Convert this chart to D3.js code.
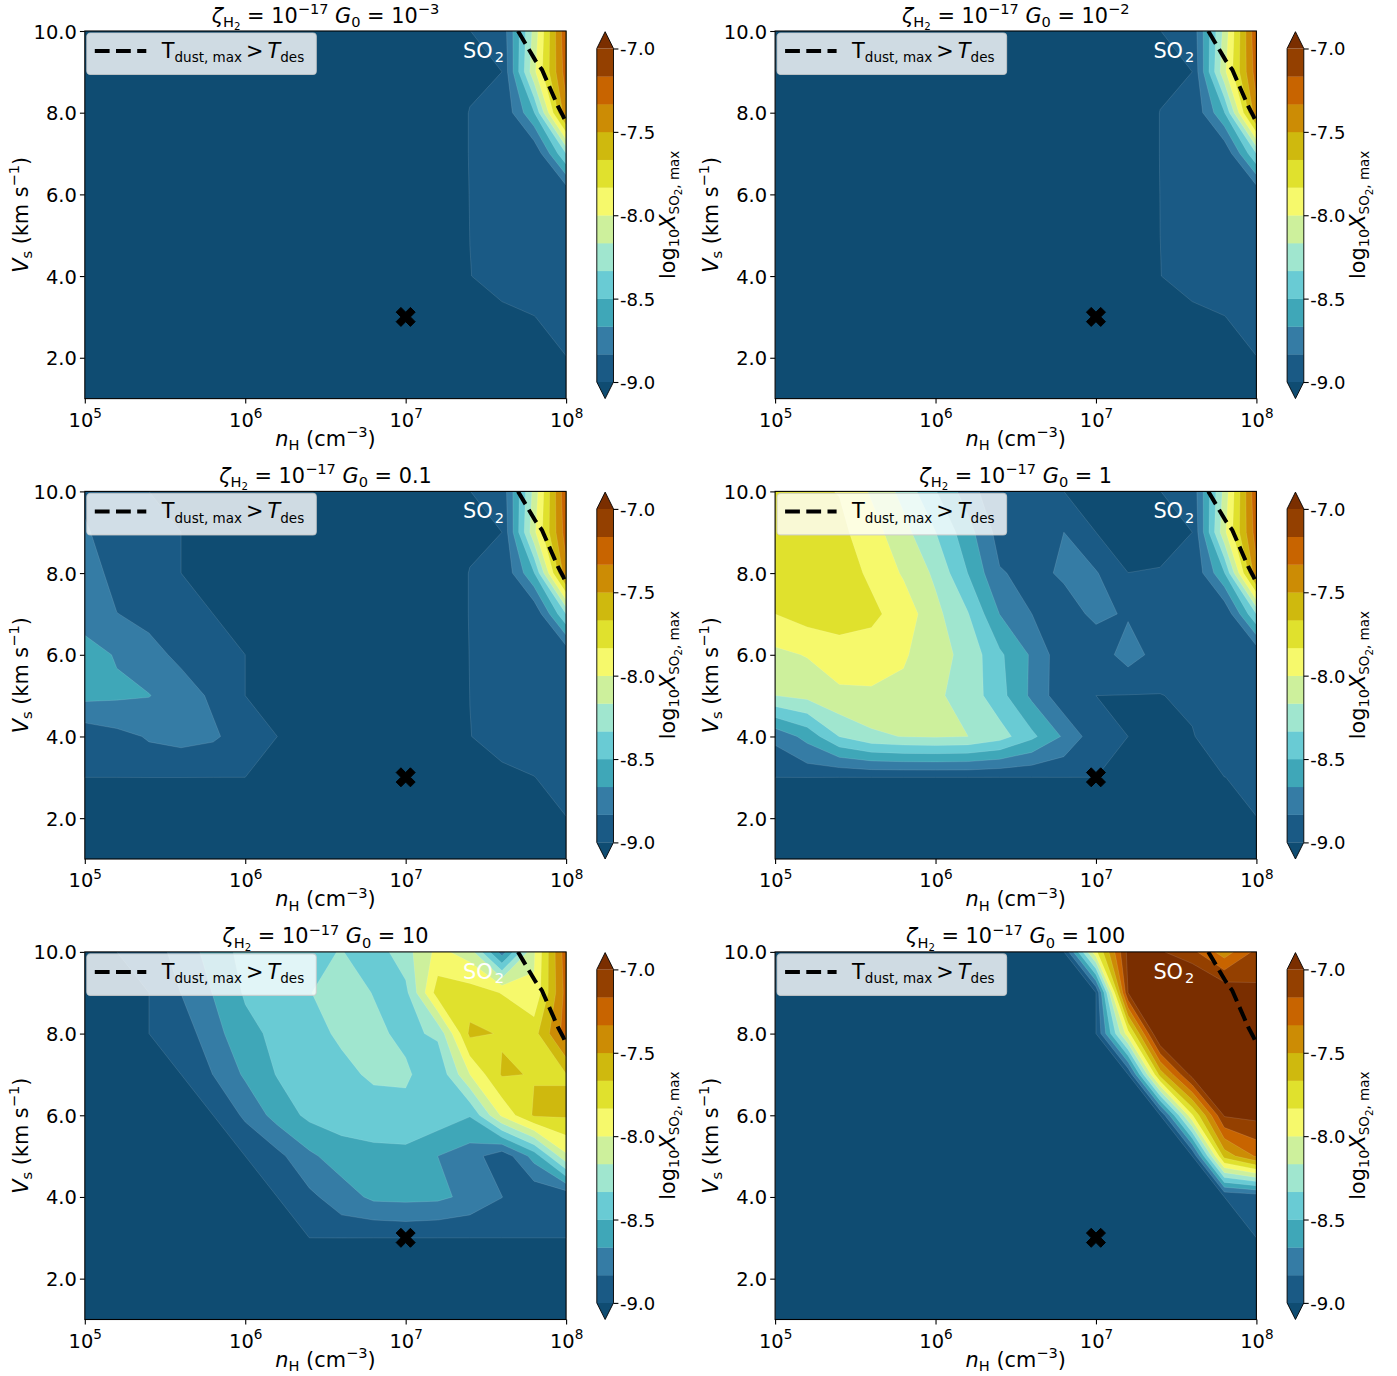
<!DOCTYPE html>
<html><head><meta charset="utf-8">
<script src="https://cdn.jsdelivr.net/npm/d3@7"></script>
<style>html,body{margin:0;padding:0;background:#fff}svg{display:block}text{font-family:"DejaVu Sans",sans-serif;white-space:pre}</style>
</head><body><svg id="c" width="1397" height="1376"></svg>
<script>
const U=-9.2, Z=-30;
const logNGrid=[5,5.2,5.4,5.6,5.8,6,6.2,6.4,6.6,6.8,7,7.2,7.4,7.6,7.8,8];
const vGrid=[10,9,8,7,6,5,4,3,2,1];
const levels=[-9,-8.8333,-8.6667,-8.5,-8.3333,-8.1667,-8,-7.8333,-7.6667,-7.5,-7.3333,-7.1667,-7];
const underColor="#0f4c72";
const bandColors=["#1a5a85","#357ca5","#3fa7b8","#69cbd4","#a0e6cf","#cdf09c","#f6f96b","#e0e12d","#cfb90e","#cc8c05","#c86400","#944000","#7a2e00"];
const xTicks=[1e5,1e6,1e7,1e8], xTickExp=["5","6","7","8"];
const yTicks=[2,4,6,8,10];
const cbTicks=[-9,-8.5,-8,-7.5,-7];
const markerN=1e7, markerV=3;
const dustN=[7.70,7.81,7.85,7.90,7.95,7.98,8.0].map(d=>Math.pow(10,d));
const dustV=[10,9.27,9.05,8.6,8.15,7.93,7.76];
const titleG0=[["10","−3"],["10","−2"],["0.1",null],["1",null],["10",null],["100",null]];

const grid1=[
[U,U,U,U,U,U,U,U,U,U,U,U,-9.001,-8.955,-8.11,-7.2],
[U,U,U,U,U,U,U,U,U,U,U,U,-9.06,-9.0,-8.04,-7.25],
[U,U,U,U,U,U,U,U,U,U,U,U,-8.99,-8.99,-8.51,-7.38],
[U,U,U,U,U,U,U,U,U,U,U,U,-8.99,-8.98,-8.98,-8.33],
[U,U,U,U,U,U,U,U,U,U,U,U,-8.995,-8.98,-8.98,-8.98],
[U,U,U,U,U,U,U,U,U,U,U,U,-8.999,-8.98,-8.98,-8.98],
[U,U,U,U,U,U,U,U,U,U,U,U,-9.003,-8.95,-8.97,-8.98],
[U,U,U,U,U,U,U,U,U,U,U,U,-9.1,-9.03,-9.001,-8.98],
[U,U,U,U,U,U,U,U,U,U,U,U,U,U,-9.3,-9.001],
[Z,Z,Z,Z,Z,Z,Z,Z,Z,Z,Z,Z,Z,Z,Z,Z]];
const grid2=[
[U,U,U,U,U,U,U,U,U,U,U,U,-9.001,-8.955,-8.11,-7.2],
[U,U,U,U,U,U,U,U,U,U,U,U,-9.06,-9.0,-8.04,-7.25],
[U,U,U,U,U,U,U,U,U,U,U,U,-8.995,-8.99,-8.51,-7.38],
[U,U,U,U,U,U,U,U,U,U,U,U,-8.995,-8.98,-8.98,-8.33],
[U,U,U,U,U,U,U,U,U,U,U,U,-8.998,-8.98,-8.98,-8.98],
[U,U,U,U,U,U,U,U,U,U,U,U,-9.0,-8.98,-8.98,-8.98],
[U,U,U,U,U,U,U,U,U,U,U,U,-9.002,-8.95,-8.97,-8.98],
[U,U,U,U,U,U,U,U,U,U,U,U,-9.1,-9.03,-9.001,-8.98],
[U,U,U,U,U,U,U,U,U,U,U,U,U,U,-9.3,-9.001],
[Z,Z,Z,Z,Z,Z,Z,Z,Z,Z,Z,Z,Z,Z,Z,Z]];
const grid3=[
[-8.9,-8.95,-9.0,U,U,U,U,U,U,U,U,U,-9.001,-8.955,-8.11,-7.2],
[-8.8,-8.98,-8.99,-9.0,U,U,U,U,U,U,U,U,-9.06,-9.0,-8.04,-7.25],
[-8.72,-8.91,-8.93,-9.0,U,U,U,U,U,U,U,U,-8.99,-8.99,-8.51,-7.38],
[-8.74,-8.83,-8.88,-8.93,-9.0,U,U,U,U,U,U,U,-8.99,-8.98,-8.98,-8.33],
[-8.6,-8.68,-8.78,-8.87,-8.93,-9.0,U,U,U,U,U,U,-8.995,-8.98,-8.98,-8.98],
[-8.62,-8.64,-8.66,-8.76,-8.86,-9.0,U,U,U,U,U,U,-8.999,-8.98,-8.98,-8.98],
[-8.94,-8.88,-8.82,-8.8,-8.81,-8.91,-9.0,U,U,U,U,U,-9.003,-8.95,-8.97,-8.98],
[-8.97,-8.97,-8.92,-8.92,-8.98,-9.0,U,U,U,U,U,U,-9.1,-9.03,-9.001,-8.98],
[Z,Z,Z,Z,Z,Z,Z,Z,U,U,U,U,U,U,-9.3,-9.001],
[Z,Z,Z,Z,Z,Z,Z,Z,Z,Z,Z,Z,Z,Z,Z,Z]];
const grid4=[
[-7.75,-7.8,-7.84,-8.02,-8.22,-8.49,-8.75,-8.98,-8.99,-9.0,-9.05,-9.05,-9.001,-8.955,-8.11,-7.2],
[-7.75,-7.76,-7.79,-7.93,-8.11,-8.33,-8.6,-8.9,-8.98,-8.833,-9.0,-9.05,-9.06,-9.0,-8.04,-7.25],
[-7.73,-7.73,-7.76,-7.86,-8.02,-8.2,-8.5,-8.82,-8.88,-8.81,-8.82,-8.9995,-8.99,-8.99,-8.51,-7.38],
[-7.833,-7.76,-7.74,-7.8,-7.9,-8.12,-8.32,-8.67,-8.833,-8.9,-8.8,-8.85,-8.99,-8.98,-8.98,-8.33],
[-8.04,-7.99,-7.92,-7.9,-7.98,-8.1,-8.22,-8.47,-8.69,-8.95,-8.93,-8.76,-8.9,-8.98,-8.98,-8.98],
[-8.167,-8.12,-8.03,-8.03,-8.04,-8.14,-8.23,-8.44,-8.7,-8.95,-9.0,-9.005,-9.005,-8.97,-8.98,-8.98],
[-8.79,-8.61,-8.33,-8.2,-8.16,-8.15,-8.165,-8.26,-8.46,-8.69,-8.94,-9.0,-9.05,-9.01,-8.9,-8.98],
[-8.99,-8.95,-8.99,-8.98,-8.98,-8.98,-8.98,-8.99,-8.99,-8.98,-8.9995,-9.05,-9.05,-9.03,-9.001,-8.98],
[Z,Z,Z,Z,Z,Z,Z,Z,Z,Z,Z,-9.3,-9.3,-9.3,-9.3,-9.001],
[Z,Z,Z,Z,Z,Z,Z,Z,Z,Z,Z,Z,Z,Z,Z,Z]];
const grid5=[
[U,-9.0,-8.93,-8.76,-8.6,-8.44,-8.42,-8.38,-8.325,-8.43,-8.23,-7.95,-8.08,-8.75,-8.02,-7.23],
[U,U,-9.0,-8.83,-8.66,-8.48,-8.42,-8.34,-8.25,-8.34,-8.38,-7.75,-7.76,-7.84,-7.98,-7.27],
[U,U,-9.0,-8.93,-8.73,-8.55,-8.46,-8.38,-8.31,-8.29,-8.38,-8.3,-7.63,-7.68,-7.73,-7.25],
[U,U,U,-9.0,-8.83,-8.64,-8.49,-8.42,-8.37,-8.31,-8.3,-8.47,-8.0,-7.65,-7.675,-7.675],
[U,U,U,U,-9.0,-8.8,-8.6,-8.46,-8.42,-8.4,-8.4,-8.4,-8.49,-7.97,-7.645,-7.645],
[U,U,U,U,U,-9.0,-8.88,-8.7,-8.58,-8.55,-8.54,-8.667,-8.75,-8.95,-8.6,-8.03],
[U,U,U,U,U,U,-9.0,-8.87,-8.75,-8.63,-8.62,-8.63,-8.71,-8.83,-8.98,-8.98],
[U,U,U,U,U,U,U,-8.9995,-8.94,-8.99,-8.975,-8.99,-8.99,-8.99,-8.99,-8.995],
[Z,Z,Z,Z,Z,Z,Z,Z,Z,Z,Z,Z,Z,Z,Z,Z],
[Z,Z,Z,Z,Z,Z,Z,Z,Z,Z,Z,Z,Z,Z,Z,Z]];
const grid6=[
[U,U,U,U,U,U,U,U,U,-9.0,-7.87,-6.95,-6.98,-7.12,-7.42,-7.12],
[U,U,U,U,U,U,U,U,U,U,-9.0,-7.0,-6.7,-6.7,-6.85,-6.96],
[U,U,U,U,U,U,U,U,U,U,-9.0,-7.9,-6.75,-6.7,-6.7,-6.7],
[U,U,U,U,U,U,U,U,U,U,U,-9.0,-7.6,-6.93,-6.7,-6.7],
[U,U,U,U,U,U,U,U,U,U,U,U,-9.0,-7.85,-6.98,-6.95],
[U,U,U,U,U,U,U,U,U,U,U,U,U,-9.0,-7.6,-7.31],
[U,U,U,U,U,U,U,U,U,U,U,U,U,U,-9.0,-8.95],
[U,U,U,U,U,U,U,U,U,U,U,U,U,U,U,-9.0],
[U,U,U,U,U,U,U,U,U,U,U,U,U,U,U,U],
[Z,Z,Z,Z,Z,Z,Z,Z,Z,Z,Z,Z,Z,Z,Z,Z]];
const grids=[grid1,grid2,grid3,grid4,grid5,grid6];

const svg=d3.select("#c");
const FS=19.44, LFS=20.83, CBFS=18;
const colX=[84.8,775.1], rowY=[31,491.4,951.9], W=481.3, H=367.6;
const cbDX=512, cbW=16.7, cbTop=17.5, cbBot=351;

function rich(sel,segs,size){
  let cur=0;
  segs.forEach(([t,o])=>{
    o=o||{};
    const z=o.z||1, sh=(o.s||0)*size;
    const ts=sel.append("tspan").text(t).attr("font-size",size*z);
    if(o.i) ts.attr("font-style","oblique");
    ts.attr("dy",(cur-sh)+"px");
    if(o.dx) ts.attr("dx",o.dx+"px");
    cur=sh;
  });
}
const sub={z:.7,s:-.2}, sup={z:.7,s:.42}, subsub={z:.49,s:-.36};
const tightSub={z:.65,s:-.2};

grids.forEach((g,idx)=>{
  const ox=colX[idx%2], oy=rowY[Math.floor(idx/2)];
  const root=svg.append("g").attr("transform",`translate(${ox},${oy})`);
  const x=d3.scaleLog().domain([1e5,1e8]).range([0,W]);
  const y=d3.scaleLinear().domain([1,10]).range([H,0]);
  const clipId="clip"+idx;
  root.append("clipPath").attr("id",clipId).append("rect").attr("width",W).attr("height",H);
  const plot=root.append("g").attr("clip-path",`url(#${clipId})`);
  plot.append("rect").attr("width",W).attr("height",H).attr("fill",underColor);
  const rows=g.slice().reverse();
  const flat=rows.flat();
  const cs=d3.contours().size([logNGrid.length,vGrid.length]).thresholds(levels)(flat);
  const asc=logNGrid, vAsc=vGrid.slice().reverse();
  const proj=d3.geoTransform({point(px,py){
    const fx=px-.5, fy=py-.5;
    const ln=asc[0]+(asc[1]-asc[0])*fx;
    const v=vAsc[0]+(vAsc[1]-vAsc[0])*fy;
    this.stream.point(x(Math.pow(10,ln)),y(v));
  }});
  const path=d3.geoPath(proj);
  plot.selectAll("path.band").data(cs).join("path").attr("class","band")
    .attr("d",path).attr("fill",(d,i)=>bandColors[i])
    .attr("stroke","#fff").attr("stroke-opacity",.2).attr("stroke-width",.6);
  const line=d3.line().x(d=>x(d[0])).y(d=>y(d[1])).curve(d3.curveLinear);
  plot.append("path").attr("d",line(d3.zip(dustN,dustV))).attr("fill","none")
    .attr("stroke","#000").attr("stroke-width",4).attr("stroke-dasharray","14.8 6.4");
  const u=4.75;
  const shape=[[-1,-2],[0,-1],[1,-2],[2,-1],[1,0],[2,1],[1,2],[0,1],[-1,2],[-2,1],[-1,0],[-2,-1]];
  root.append("path").attr("d","M"+shape.map(p=>[p[0]*u,p[1]*u].join(",")).join("L")+"Z")
    .attr("transform",`translate(${x(markerN)},${y(markerV)})`).attr("fill","#000").attr("stroke","#000").attr("stroke-width",1);
  const so=root.append("text").attr("x",W-103).attr("y",27).attr("fill","#fff");
  rich(so,[["SO"],["2",{z:.7,s:-.2,dx:2}]],20.8);
  const lg=root.append("g");
  lg.append("rect").attr("x",2).attr("y",2).attr("width",229.5).attr("height",41.5).attr("rx",3.5)
    .attr("fill","#fff").attr("fill-opacity",.8).attr("stroke","#ccc").attr("stroke-opacity",.8).attr("stroke-width",1.1);
  lg.append("line").attr("x1",10).attr("x2",61.5).attr("y1",20).attr("y2",20).attr("stroke","#000")
    .attr("stroke-width",4).attr("stroke-dasharray","14.8 6.4");
  const lt=lg.append("text").attr("x",77).attr("y",27).attr("fill","#000");
  rich(lt,[["T"],["dust, max",tightSub],[">",{dx:4}],["T",{i:1,dx:4}],["des",tightSub]],LFS);
  const ax=root.append("g").attr("transform",`translate(0,${H})`)
    .call(d3.axisBottom(x).tickValues(xTicks).tickFormat("").tickSize(4.9).tickSizeOuter(0));
  ax.select(".domain").remove();
  ax.selectAll(".tick line").attr("stroke","#000").attr("stroke-width",1.1);
  ax.selectAll(".tick").each(function(d,i){
    const t=d3.select(this).select("text").attr("y",null).attr("dy",null).attr("fill","#000").text("")
      .attr("text-anchor","middle").attr("transform","translate(0,28)").attr("font-size",FS);
    rich(t,[["10"],[xTickExp[i],sup]],FS);
  });
  const ay=root.append("g").call(d3.axisLeft(y).tickValues(yTicks).tickFormat(d=>d.toFixed(1)).tickSize(4.9).tickSizeOuter(0));
  ay.select(".domain").remove();
  ay.selectAll(".tick line").attr("stroke","#000").attr("stroke-width",1.1);
  ay.selectAll(".tick text").attr("fill","#000").attr("font-size",FS).attr("x",-8).attr("dy",".36em");
  root.append("rect").attr("width",W).attr("height",H).attr("fill","none").attr("stroke","#000").attr("stroke-width",1.1);
  const xl=root.append("text").attr("x",W/2).attr("y",H+47.5).attr("text-anchor","middle").attr("fill","#000");
  rich(xl,[["n",{i:1}],["H",sub],[" (cm"],["−3",sup],[")"]],LFS);
  const yl=root.append("text").attr("transform",`translate(-57,${H/2}) rotate(-90)`).attr("text-anchor","middle").attr("fill","#000");
  rich(yl,[["V",{i:1}],["s",sub],[" (km s"],["−1",sup],[")"]],LFS);
  const tt=root.append("text").attr("x",W/2).attr("y",-8.5).attr("text-anchor","middle").attr("fill","#000");
  const [g0,ge]=titleG0[idx];
  const tsegs=[["ζ",{i:1}],["H",sub],["2",subsub],[" = 10"],["−17",sup],[" "],["G",{i:1}],["0",sub],[" = "+g0]];
  if(ge) tsegs.push([ge,sup]);
  rich(tt,tsegs,LFS);
  const cb=root.append("g").attr("transform",`translate(${cbDX},0)`);
  const c=d3.scaleLinear().domain([-9,-7]).range([cbBot,cbTop]);
  cb.selectAll("rect.b").data(levels.slice(0,-1)).join("rect").attr("class","b")
    .attr("x",0).attr("width",cbW).attr("y",(d,i)=>c(levels[i+1])).attr("height",(d,i)=>c(levels[i])-c(levels[i+1])+.3)
    .attr("fill",(d,i)=>bandColors[i]);
  const topA=0.7, botA=H;
  cb.append("path").attr("d",`M0,${cbTop}L${cbW/2},${topA}L${cbW},${cbTop}Z`).attr("fill",bandColors[12]);
  cb.append("path").attr("d",`M0,${cbBot}L${cbW/2},${botA}L${cbW},${cbBot}Z`).attr("fill",underColor);
  cb.append("path").attr("d",`M0,${cbTop}L${cbW/2},${topA}L${cbW},${cbTop}L${cbW},${cbBot}L${cbW/2},${botA}L0,${cbBot}Z`)
    .attr("fill","none").attr("stroke","#000").attr("stroke-width",.9);
  const cax=cb.append("g").attr("transform",`translate(${cbW},0)`)
    .call(d3.axisRight(c).tickValues(cbTicks).tickFormat(d=>d.toFixed(1)).tickSize(4.9).tickSizeOuter(0));
  cax.select(".domain").remove();
  cax.selectAll(".tick line").attr("stroke","#000").attr("stroke-width",1.1);
  cax.selectAll(".tick text").attr("fill","#000").attr("font-size",CBFS).attr("x",6.5).attr("dy",".36em");
  const cl=cb.append("text").attr("transform",`translate(78,${H/2}) rotate(-90)`).attr("text-anchor","middle").attr("fill","#000");
  rich(cl,[["log"],["10",sub],["X",{i:1}],["SO",tightSub],["2",subsub],[", max",tightSub]],LFS);
});
</script></body></html>
